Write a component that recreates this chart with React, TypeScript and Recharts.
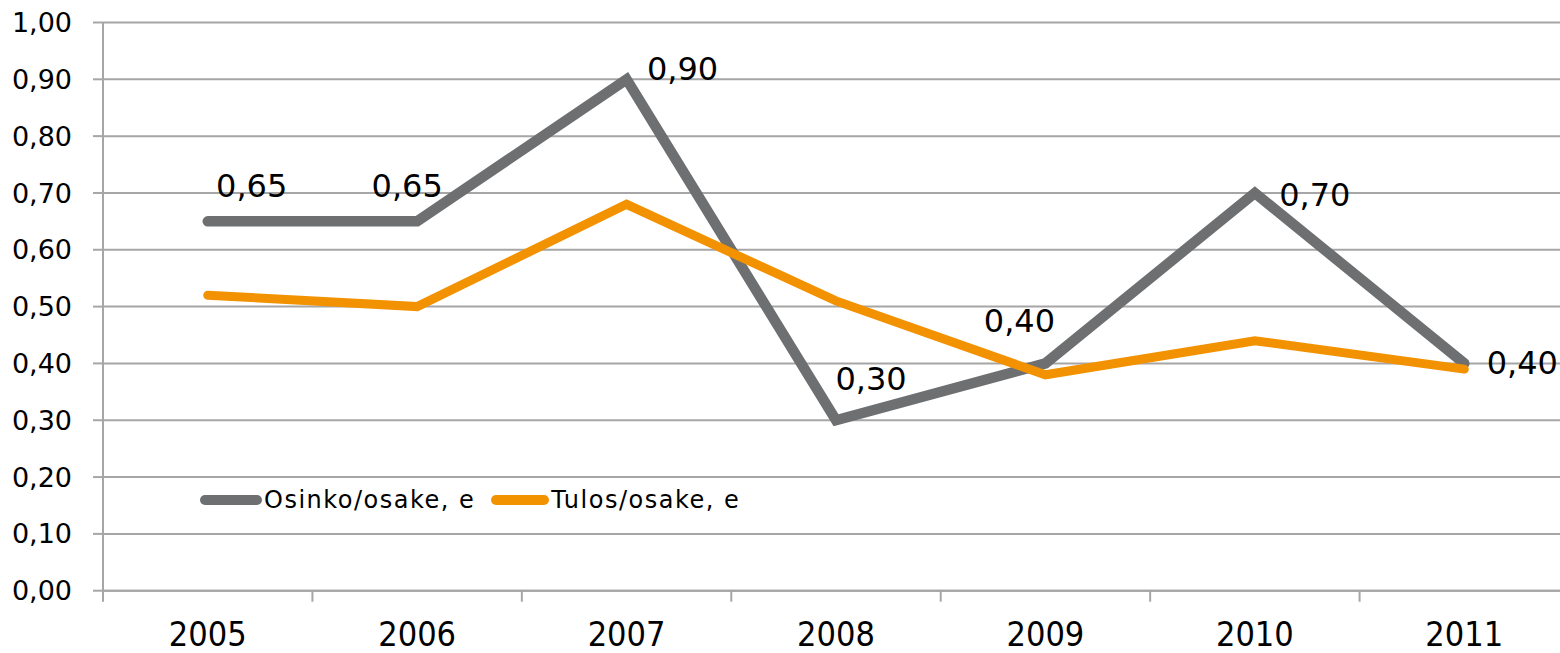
import React from 'react';
import { LineChart, Line, XAxis, YAxis, CartesianGrid, LabelList } from 'recharts';

const YEARS = ['2005', '2006', '2007', '2008', '2009', '2010', '2011'];
const OSINKO = [0.65, 0.65, 0.9, 0.3, 0.4, 0.7, 0.4];
const TULOS = [0.52, 0.5, 0.68, 0.51, 0.38, 0.44, 0.39];
const Y_TICKS = [0, 0.1, 0.2, 0.3, 0.4, 0.5, 0.6, 0.7, 0.8, 0.9, 1.0];
const SERIES_NAMES = ['Osinko/osake, e', 'Tulos/osake, e'];

// label offsets (style only) relative to each data point
const LABEL_OFFSETS: [number, number][] = [
  [44, -35],
  [-10, -35],
  [56, -10],
  [35, -41],
  [-26, -42],
  [60, 2],
  [58, 0],
];

const data = YEARS.map((y, i) => ({ year: y, osinko: OSINKO[i], tulos: TULOS[i] }));

const FONT_C = '"DejaVu Sans Condensed", "DejaVu Sans", sans-serif';
const FONT = '"DejaVu Sans", sans-serif';
const GRAY = '#6D6F71';
const ORANGE = '#F39200';
const GRID = '#A6A6A6';

const CHART_W = 1569;
const CHART_H = 653;
const Y_AXIS_W = 103;
const PLOT_W = CHART_W - Y_AXIS_W;
const BAND = PLOT_W / YEARS.length;
const X_TICK_MARGIN = 43;

const fmt = (v: number) => v.toFixed(2).replace('.', ',');

const XTick = (props: any) => {
  const { x, y, payload } = props;
  const axisY = y - X_TICK_MARGIN;
  const bx = x - BAND / 2;
  return (
    <g>
      <line x1={bx} y1={axisY} x2={bx} y2={axisY + 11} stroke={GRID} strokeWidth={2} />
      <text x={x} y={y} textAnchor="middle" dominantBaseline="central" fontSize={34} fontFamily={FONT_C} fill="#000">
        {payload.value}
      </text>
    </g>
  );
};

const OsinkoLabel = (props: any) => {
  const { x, y, value, index } = props;
  const [dx, dy] = LABEL_OFFSETS[index] || [0, 0];
  return (
    <text x={x + dx} y={y + dy} textAnchor="middle" dominantBaseline="central" fontSize={32} fontFamily={FONT} fill="#000">
      {fmt(Number(value))}
    </text>
  );
};

export default function App() {
  return (
    <div style={{ position: 'absolute', left: 0, top: 0, width: 1560, height: 653, overflow: 'hidden', background: '#fff' }}>
      <LineChart width={CHART_W} height={CHART_H} data={data} margin={{ top: 22.5, right: 0, bottom: 0, left: 0 }}>
        <CartesianGrid horizontal vertical={false} stroke={GRID} strokeWidth={2} />
        <XAxis
          dataKey="year"
          scale="band"
          height={62.3}
          tickLine={false}
          tickSize={0}
          tickMargin={X_TICK_MARGIN}
          tick={<XTick />}
          axisLine={{ stroke: GRID, strokeWidth: 2 }}
          interval={0}
        />
        <YAxis
          width={Y_AXIS_W}
          domain={[0, 1]}
          ticks={Y_TICKS}
          tickFormatter={fmt}
          tickSize={10}
          tickMargin={21}
          tickLine={{ stroke: GRID, strokeWidth: 2 }}
          axisLine={{ stroke: GRID, strokeWidth: 2 }}
          tick={{ fontSize: 27, fontFamily: FONT, fill: '#000' }}
          interval={0}
        />
        <Line
          dataKey="osinko"
          name={SERIES_NAMES[0]}
          stroke={GRAY}
          strokeWidth={10.5}
          strokeLinecap="round"
          strokeLinejoin="miter"
          dot={false}
          activeDot={false}
          isAnimationActive={false}
        >
          <LabelList dataKey="osinko" content={<OsinkoLabel />} />
        </Line>
        <Line
          dataKey="tulos"
          name={SERIES_NAMES[1]}
          stroke={ORANGE}
          strokeWidth={9}
          strokeLinecap="round"
          strokeLinejoin="miter"
          dot={false}
          activeDot={false}
          isAnimationActive={false}
        />
      </LineChart>
      <div
        style={{
          position: 'absolute',
          left: 200,
          top: 486,
          height: 28,
          display: 'flex',
          alignItems: 'center',
          fontFamily: FONT,
          fontSize: 24,
          letterSpacing: 1.5,
          color: '#000',
          whiteSpace: 'nowrap',
        }}
      >
        {[GRAY, ORANGE].map((c, i) => (
          <div key={i} style={{ display: 'flex', alignItems: 'center', marginRight: 16 }}>
            <div style={{ width: i === 0 ? 62 : 58, height: 10, borderRadius: 5, background: c, marginRight: 2 }} />
            <span>{SERIES_NAMES[i]}</span>
          </div>
        ))}
      </div>
    </div>
  );
}
